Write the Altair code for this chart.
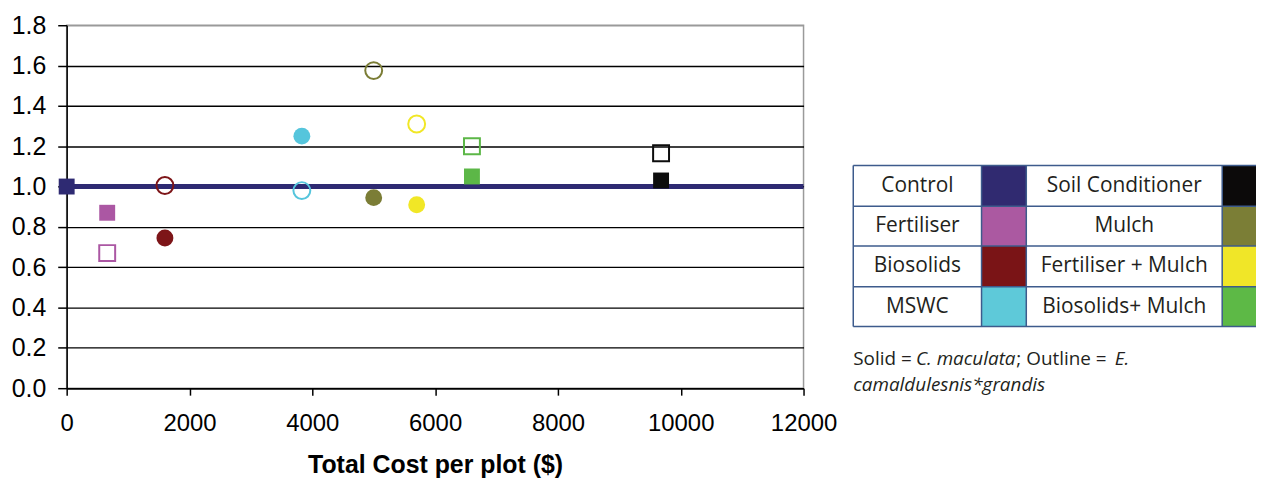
import altair as alt
import pandas as pd

# ---------------- data ----------------
treatments = ["Control", "Fertiliser", "Biosolids", "MSWC", "Mulch",
              "Fertiliser + Mulch", "Biosolids+ Mulch", "Soil Conditioner"]
cost = [0, 660, 1600, 3830, 5000, 5700, 6600, 9680]
solid_vals = [1.00, 0.87, 0.745, 1.25, 0.945, 0.91, 1.05, 1.03]       # C. maculata
outline_vals = [None, 0.67, 1.005, 0.98, 1.575, 1.31, 1.20, 1.165]     # E. camaldulensis*grandis
shapes = ["square", "square", "circle", "circle", "circle", "circle", "square", "square"]
colors = ["#2e2a72", "#ab57a3", "#7d1518", "#55c5dc", "#7b7d36", "#f1e726", "#5cb747", "#0d0d0d"]

control_level = [1.0]
control_span = [0, 12000]

x_ticks = [0, 2000, 4000, 6000, 8000, 10000, 12000]
y_ticks = [0.0, 0.2, 0.4, 0.6, 0.8, 1.0, 1.2, 1.4, 1.6, 1.8]
x_title = "Total Cost per plot ($)"

legend_left = ["Control", "Fertiliser", "Biosolids", "MSWC"]
legend_left_colors = ["#302a70", "#ab59a1", "#7a1416", "#5ec9d9"]
legend_right = ["Soil Conditioner", "Mulch", "Fertiliser + Mulch", "Biosolids+ Mulch"]
legend_right_colors = ["#0c0a0a", "#7b7e36", "#f0e628", "#5db946"]

caption_segments = ["Solid = ", "C. maculata", "; Outline = ", "E."]
caption_italic = [False, True, False, True]
caption_line2 = "camaldulesnis*grandis"

# ---------------- layout (pixels relative to plot origin) ----------------
TBL_X = [791, 920, 965, 1162, 1200]
TBL_Y = [141, 182, 222, 263, 303]
CAP_X = [791, 854, 955, 1054]
CAP_Y = [342, 368]
BORDER = "#3d5b8c"
TXT = "#231f20"

# ---------------- scatter ----------------
rows = []
for t, c, s, o, sh in zip(treatments, cost, solid_vals, outline_vals, shapes):
    rows.append({"treatment": t, "cost": c, "value": s, "kind": "solid", "shape": sh})
    if o is not None:
        rows.append({"treatment": t, "cost": c, "value": o, "kind": "outline", "shape": sh})
df = pd.DataFrame(rows)

xs = alt.Scale(domain=[0, 12000], nice=False, zero=False)
ys = alt.Scale(domain=[0, 1.8], nice=False)

x_axis = alt.Axis(values=x_ticks, format="d", title=x_title, grid=False,
                  labelFontSize=24, labelColor="black", labelPadding=17,
                  tickSize=7, tickColor="black", tickWidth=1.5,
                  domainColor="black", domainWidth=1.5,
                  titleFontSize=25, titleFontWeight="bold", titleColor="black",
                  titlePadding=17, labelFlush=False)
y_axis = alt.Axis(values=y_ticks, format=".1f", title=None, grid=True,
                  gridColor={"condition": {"test": "datum.value > 1.75", "value": "#9a9a9a"},
                             "value": "#000000"},
                  gridWidth=1.4, gridOpacity=1,
                  labelFontSize=25, labelColor="black", labelPadding=12,
                  tickSize=9, tickColor="black", tickWidth=1.5,
                  domainColor="black", domainWidth=1.5, labelFlush=False)

line_df = pd.DataFrame({"x": [control_span[0]], "x2": [control_span[1]], "y": control_level})
control_rule = alt.Chart(line_df).mark_rule(color="#2e2a72", strokeWidth=5).encode(
    x=alt.X("x:Q", scale=xs, axis=x_axis),
    x2="x2:Q",
    y=alt.Y("y:Q", scale=ys, axis=y_axis),
)

color_enc = alt.Color("treatment:N", scale=alt.Scale(domain=treatments, range=colors), legend=None)
shape_enc = alt.Shape("shape:N", scale=alt.Scale(domain=["circle", "square"], range=["circle", "square"]), legend=None)

outline_pts = alt.Chart(df).transform_filter("datum.kind == 'outline'").mark_point(
    filled=False, strokeWidth=2, opacity=1).encode(
    x=alt.X("cost:Q", scale=xs, axis=x_axis),
    y=alt.Y("value:Q", scale=ys, axis=y_axis),
    color=color_enc, shape=shape_enc,
    size=alt.Size("shape:N", scale=alt.Scale(domain=["circle", "square"], range=[289, 256]), legend=None),
)
solid_pts = alt.Chart(df).transform_filter("datum.kind == 'solid'").mark_point(
    filled=True, opacity=1).encode(
    x=alt.X("cost:Q", scale=xs, axis=x_axis),
    y=alt.Y("value:Q", scale=ys, axis=y_axis),
    color=color_enc, shape=shape_enc,
    size=alt.Size("shape:N", scale=alt.Scale(domain=["circle", "square"], range=[345, 300]), legend=None),
)

data_chart = alt.layer(control_rule, outline_pts, solid_pts)

# ---------------- legend table ----------------
cells = []
for i in range(4):
    cells.append({"x": TBL_X[0], "x2": TBL_X[1], "y": TBL_Y[i], "y2": TBL_Y[i + 1],
                  "label": legend_left[i], "sx": TBL_X[1], "sx2": TBL_X[2], "col": legend_left_colors[i]})
    cells.append({"x": TBL_X[2], "x2": TBL_X[3], "y": TBL_Y[i], "y2": TBL_Y[i + 1],
                  "label": legend_right[i], "sx": TBL_X[3], "sx2": TBL_X[4], "col": legend_right_colors[i]})
cells_df = pd.DataFrame(cells)
cells_df["cx"] = (cells_df["x"] + cells_df["x2"]) / 2
cells_df["cy"] = (cells_df["y"] + cells_df["y2"]) / 2

swatches = alt.Chart(cells_df).mark_rect().encode(
    x=alt.X("sx:Q", scale=None, axis=None), x2="sx2:Q",
    y=alt.Y("y:Q", scale=None, axis=None), y2="y2:Q",
    color=alt.Color("col:N", scale=None, legend=None),
)
labels = alt.Chart(cells_df).mark_text(font="Open Sans", fontSize=21, color=TXT,
                                       align="center", baseline="middle").encode(
    x=alt.X("cx:Q", scale=None, axis=None),
    y=alt.Y("cy:Q", scale=None, axis=None),
    text="label:N",
)
h_lines = pd.DataFrame({"x": [TBL_X[0]] * 5, "x2": [TBL_X[4]] * 5, "y": TBL_Y, "y2": TBL_Y})
v_lines = pd.DataFrame({"x": TBL_X[:4], "x2": TBL_X[:4], "y": [TBL_Y[0]] * 4, "y2": [TBL_Y[-1]] * 4})
grid_df = pd.concat([h_lines, v_lines], ignore_index=True)
borders = alt.Chart(grid_df).mark_rule(color=BORDER, strokeWidth=1.5).encode(
    x=alt.X("x:Q", scale=None, axis=None), x2="x2:Q",
    y=alt.Y("y:Q", scale=None, axis=None), y2="y2:Q",
)

cap_df = pd.DataFrame({
    "text": caption_segments + [caption_line2],
    "x": CAP_X + [CAP_X[0]],
    "y": [CAP_Y[0]] * 4 + [CAP_Y[1]],
    "style": ["italic" if v else "normal" for v in caption_italic] + ["italic"],
})
cap_normal = alt.Chart(cap_df).transform_filter("datum.style == 'normal'").mark_text(
    font="Open Sans", fontSize=19, color=TXT, align="left", baseline="alphabetic").encode(
    x=alt.X("x:Q", scale=None, axis=None), y=alt.Y("y:Q", scale=None, axis=None), text="text:N")
cap_italic = alt.Chart(cap_df).transform_filter("datum.style == 'italic'").mark_text(
    font="Open Sans", fontSize=19, fontStyle="italic", color=TXT, align="left", baseline="alphabetic").encode(
    x=alt.X("x:Q", scale=None, axis=None), y=alt.Y("y:Q", scale=None, axis=None), text="text:N")

legend_chart = alt.layer(swatches, borders, labels, cap_normal, cap_italic)

chart = alt.layer(data_chart, legend_chart).resolve_scale(
    x="independent", y="independent", color="independent"
).properties(
    width=741, height=365,
    autosize=alt.AutoSizeParams(type="none"),
    padding={"left": 59, "top": 16, "right": 455, "bottom": 90},
).configure_axis(
    labelFont="Liberation Sans", titleFont="Liberation Sans"
).configure_view(
    stroke="#9a9a9a", strokeWidth=1.5
)

chart.save("out.html", embed_options={"renderer": "svg", "actions": False})
